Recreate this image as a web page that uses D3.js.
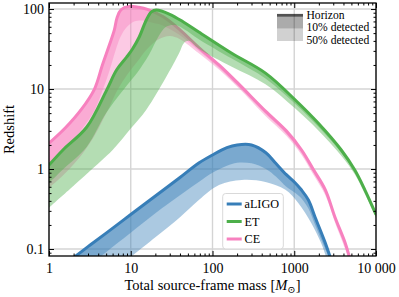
<!DOCTYPE html>
<html><head><meta charset="utf-8">
<script src="https://cdn.jsdelivr.net/npm/d3@7"></script>
<style>
body{margin:0;background:#fff}
svg{display:block}
text{font-family:"Liberation Serif","DejaVu Serif",serif;fill:#000}
</style>
</head><body>
<svg id="c" width="399" height="297"></svg>
<script>
// ---------- data ----------
const detectors = ["aLIGO", "ET", "CE"];
const colors = ["#377eb8", "#4daf4a", "#f781bf"];
const xTicks = [1, 10, 100, 1000, 10000];
const xTickLabels = ["1", "10", "100", "1000", "10 000"];
const yTicks = [0.1, 1, 10, 100];
const yTickLabels = ["0.1", "1", "10", "100"];
const legendBandLabels = ["Horizon", "10% detected", "50% detected"];

// [total mass, redshift]
const aligoHorizon = [[1.9,0.075],[3,0.107],[5,0.158],[10,0.27],[20,0.46],[40,0.785],[68,1.19],[100,1.5],[150,1.85],[200,2.0],[300,2.0],[450,1.6],[590,1.19],[800,0.85],[1030,0.67],[1220,0.55],[1490,0.41],[1800,0.25],[2400,0.119],[2800,0.075]];
const aligo10 = [[3.9,0.075],[10,0.16],[20,0.28],[40,0.47],[68,0.69],[100,0.9],[150,1.1],[200,1.2],[300,1.18],[450,1.0],[600,0.8],[800,0.6],[1030,0.5],[1220,0.43],[1490,0.32],[1800,0.2],[2400,0.1],[2700,0.075]];
const aligo50 = [[9.3,0.075],[20,0.14],[40,0.25],[68,0.41],[120,0.63],[228,0.73],[445,0.69],[780,0.55],[1120,0.376],[1620,0.21],[2130,0.119],[2500,0.075]];

const etHorizon = [[1,1.12],[1.48,1.73],[2.9,3.35],[5.07,9.7],[6.7,17.3],[8.9,25],[10.5,31.6],[12.7,44.7],[15.5,73],[17.9,92],[20.5,97],[30,86],[45,68],[68,51.6],[172,28],[445,15.8],[1030,7.3],[1960,3.76],[3760,1.73],[5500,0.97],[7300,0.55],[10000,0.27]];
const et10 = [[1,0.67],[1.5,1.0],[2.9,1.9],[5,5.0],[8.9,11],[12,16],[16.8,27],[22,46],[27,60],[35,63],[45,56],[68,42],[172,24],[445,13.5],[1030,6.5],[1960,3.4],[3760,1.6],[5500,0.91],[7300,0.52],[10000,0.255]];
const et50 = [[1,0.33],[2,0.62],[3,0.9],[6,1.73],[10,3.2],[15.5,5.5],[27,14],[39,28],[45,38],[52,40],[68,32],[172,19],[445,11.5],[1030,5.7],[1960,3.05],[3760,1.47],[5500,0.86],[7300,0.49],[10000,0.245]];

const ceHorizon = [[1,2.1],[1.6,3.3],[2.5,5.6],[3.6,10],[4.5,20],[5.5,36],[6.3,55],[6.8,78],[7.6,98],[9.5,108],[12.5,105],[16,99],[25,80],[40,55],[68,33],[120,20],[210,11.5],[445,5.3],[800,3.0],[1230,1.73],[1700,1.0],[2400,0.55],[3150,0.25],[4200,0.119],[4800,0.075]];
const ce10 = [[1,1.15],[1.6,1.8],[2.5,3.1],[3.6,5.4],[4.5,9.5],[5.5,17],[6.5,30],[7.5,45],[9,60],[11,70],[14,72],[18,68],[25,62],[40,47],[68,30],[120,18.3],[210,10.6],[445,4.9],[800,2.75],[1230,1.58],[1700,0.91],[2400,0.5],[3150,0.23],[4200,0.11],[4700,0.075]];
const ce50 = [[1,0.58],[1.6,0.9],[2.5,1.5],[3.6,2.6],[4.5,4],[5.5,6],[7,10],[9,15],[12,22],[16,32],[22,42],[30,46],[40,42],[68,28],[120,17.5],[210,10.2],[445,4.6],[800,2.6],[1230,1.5],[1700,0.86],[2400,0.47],[3150,0.215],[4200,0.1],[4650,0.075]];

const series = [
  {name: "aLIGO", color: colors[0], horizon: aligoHorizon, p10: aligo10, p50: aligo50},
  {name: "ET", color: colors[1], horizon: etHorizon, p10: et10, p50: et50},
  {name: "CE", color: colors[2], horizon: ceHorizon, p10: ce10, p50: ce50}
];

// ---------- layout ----------
const L = 49, R = 376, T = 3, B = 256;
const svg = d3.select("#c");
const x = d3.scaleLog().domain([1, 1e4]).range([L, R]);
const y = d3.scaleLog().domain([0.0818, 119]).range([B, T]);

svg.append("defs").append("clipPath").attr("id", "clip")
  .append("rect").attr("x", L).attr("y", T).attr("width", R - L).attr("height", B - T);

// grid
const grid = svg.append("g");
grid.selectAll(".gx").data(xTicks).join("line")
  .attr("x1", d => x(d)).attr("x2", d => x(d)).attr("y1", T).attr("y2", B)
  .attr("stroke", "#d4d4d4").attr("stroke-width", 1.4);
grid.selectAll(".gy").data(yTicks).join("line")
  .attr("x1", L).attr("x2", R).attr("y1", d => y(d)).attr("y2", d => y(d))
  .attr("stroke", "#d4d4d4").attr("stroke-width", 1.4);

// curves
const curve = d3.curveCatmullRom.alpha(0.5);
const line = d3.line().x(d => x(d[0])).y(d => y(d[1])).curve(curve);
function band(upper, lower) {
  return line(upper) + line(lower.slice().reverse()).replace(/^M/, "L") + "Z";
}
const plot = svg.append("g").attr("clip-path", "url(#clip)");
const drawOrder = [series[2], series[1], series[0]];
drawOrder.forEach(s => {
  const g = plot.append("g");
  g.append("path").attr("d", band(s.horizon, s.p50)).attr("fill", s.color).attr("fill-opacity", 0.42);
  g.append("path").attr("d", band(s.horizon, s.p10)).attr("fill", s.color).attr("fill-opacity", 0.42);
  g.append("path").attr("d", line(s.horizon)).attr("fill", "none").attr("stroke", s.color)
    .attr("stroke-width", 3).attr("stroke-linejoin", "round");
});

// axes
function minors(lo, hi) {
  const out = [];
  for (let e = lo; e < hi; e++) for (let k = 2; k <= 9; k++) out.push(k * Math.pow(10, e));
  return out;
}
const xMinor = minors(0, 4);
const yMinor = minors(-2, 3).filter(v => v >= 0.0818 && v <= 119);
const fs = "14px";
function styleAxis(g) {
  g.select(".domain").remove();
  g.selectAll(".tick line").attr("stroke", "#000").attr("stroke-width", 1);
  g.selectAll("text").style("font-size", fs).attr("fill", "#000");
}
svg.append("g").attr("transform", `translate(0,${B})`)
  .call(d3.axisBottom(x).tickValues(xTicks).tickFormat((d, i) => xTickLabels[i]).tickSizeInner(-5).tickSizeOuter(0).tickPadding(7))
  .call(styleAxis);
svg.append("g").attr("transform", `translate(0,${B})`)
  .call(d3.axisBottom(x).tickValues(xMinor).tickFormat("").tickSizeInner(-2.5).tickSizeOuter(0)).call(styleAxis);
svg.append("g").attr("transform", `translate(0,${T})`)
  .call(d3.axisTop(x).tickValues(xTicks).tickFormat("").tickSizeInner(-5).tickSizeOuter(0)).call(styleAxis);
svg.append("g").attr("transform", `translate(0,${T})`)
  .call(d3.axisTop(x).tickValues(xMinor).tickFormat("").tickSizeInner(-2.5).tickSizeOuter(0)).call(styleAxis);
svg.append("g").attr("transform", `translate(${L},0)`)
  .call(d3.axisLeft(y).tickValues(yTicks).tickFormat((d, i) => yTickLabels[i]).tickSizeInner(-5).tickSizeOuter(0).tickPadding(5))
  .call(styleAxis);
svg.append("g").attr("transform", `translate(${L},0)`)
  .call(d3.axisLeft(y).tickValues(yMinor).tickFormat("").tickSizeInner(-2.5).tickSizeOuter(0)).call(styleAxis);
svg.append("g").attr("transform", `translate(${R},0)`)
  .call(d3.axisRight(y).tickValues(yTicks).tickFormat("").tickSizeInner(-5).tickSizeOuter(0)).call(styleAxis);
svg.append("g").attr("transform", `translate(${R},0)`)
  .call(d3.axisRight(y).tickValues(yMinor).tickFormat("").tickSizeInner(-2.5).tickSizeOuter(0)).call(styleAxis);

svg.append("rect").attr("x", L).attr("y", T).attr("width", R - L).attr("height", B - T)
  .attr("fill", "none").attr("stroke", "#000").attr("stroke-width", 1.3);

// axis labels
const xl = svg.append("text").attr("x", (L + R) / 2).attr("y", 290).attr("text-anchor", "middle").style("font-size", "14.5px");
xl.append("tspan").text("Total source-frame mass [");
xl.append("tspan").attr("font-style", "italic").text("M");
xl.append("tspan").attr("dy", 3).style("font-size", "10px").text("⊙");
xl.append("tspan").attr("dy", -3).text("]");
svg.append("text").attr("transform", `translate(14,${(T + B) / 2}) rotate(-90)`)
  .attr("text-anchor", "middle").style("font-size", "14.5px").text("Redshift");

// legend 1 (band meaning)
const lg1 = svg.append("g");
lg1.append("rect").attr("x", 277).attr("y", 16).attr("width", 26).attr("height", 12.5).attr("fill", "#000").attr("fill-opacity", 0.33);
lg1.append("rect").attr("x", 277).attr("y", 28.5).attr("width", 26).attr("height", 12.5).attr("fill", "#000").attr("fill-opacity", 0.18);
lg1.append("line").attr("x1", 277).attr("x2", 303).attr("y1", 15.2).attr("y2", 15.2).attr("stroke", "#000").attr("stroke-opacity", 0.68).attr("stroke-width", 2.6);
lg1.selectAll("text").data(legendBandLabels).join("text")
  .attr("x", 306.5).attr("y", (d, i) => 15 + i * 12.5).attr("dy", "0.33em")
  .style("font-size", "11.6px").text(d => d);

// legend 2 (detectors)
const lg2 = svg.append("g");
lg2.append("rect").attr("x", 222.7).attr("y", 193.5).attr("width", 60.6).attr("height", 55.5).attr("rx", 3)
  .attr("fill", "#fff").attr("fill-opacity", 0.8).attr("stroke", "#d9d9d9").attr("stroke-width", 1);
detectors.forEach((d, i) => {
  const yy = 204 + i * 17.5;
  lg2.append("line").attr("x1", 226.7).attr("x2", 241.7).attr("y1", yy).attr("y2", yy)
    .attr("stroke", colors[i]).attr("stroke-width", 3);
  lg2.append("text").attr("x", 244.5).attr("y", yy).attr("dy", "0.35em").style("font-size", "12.2px").text(d);
});
</script>
</body></html>
